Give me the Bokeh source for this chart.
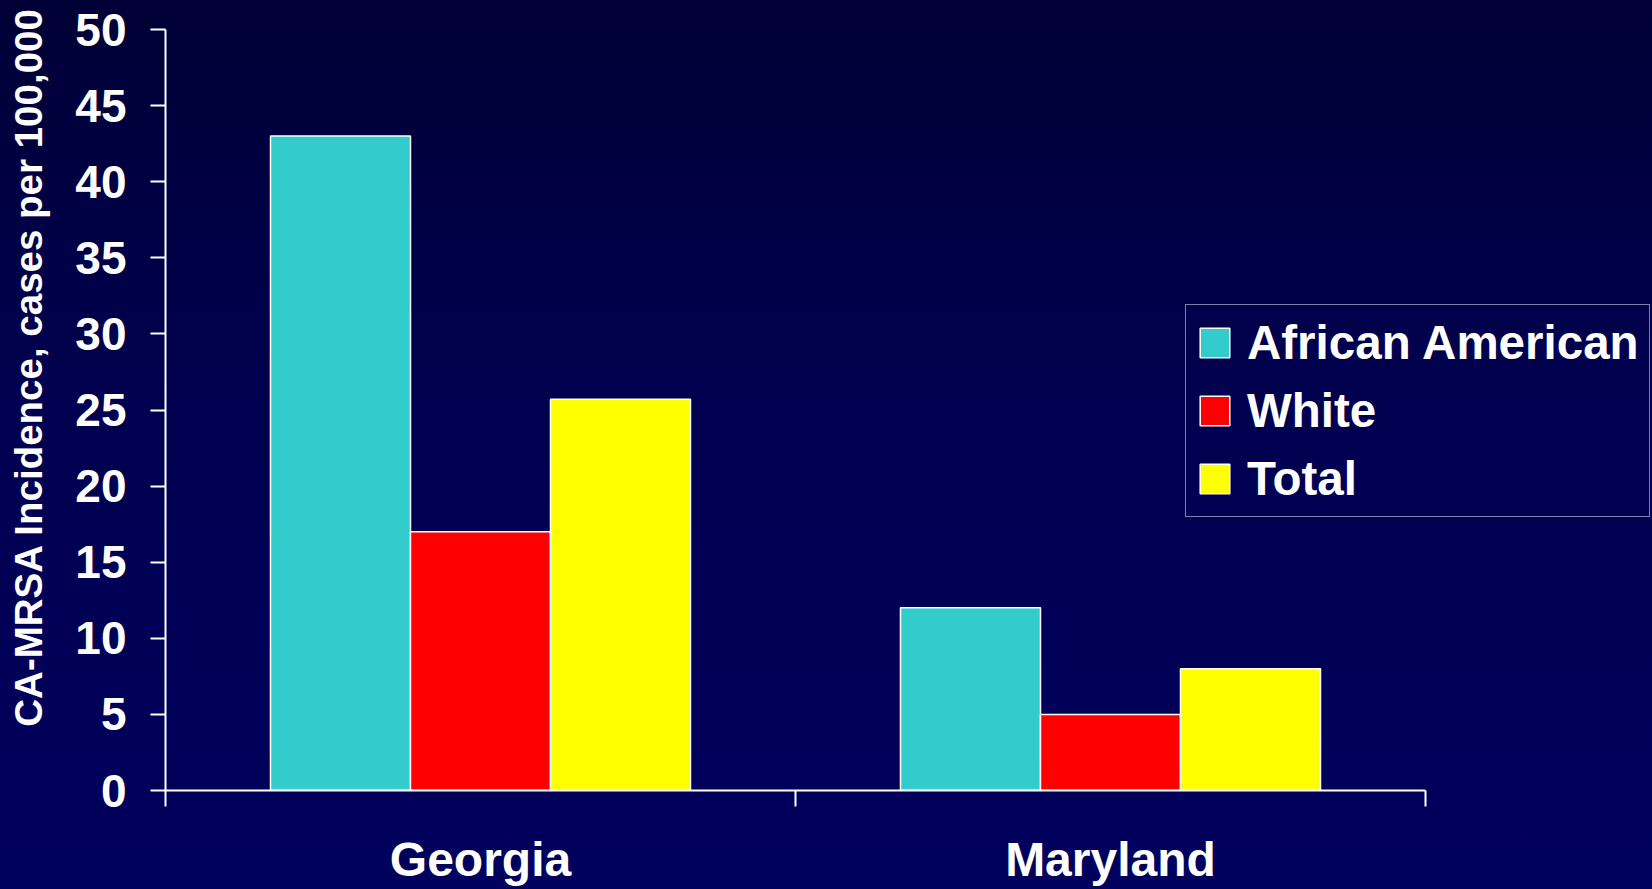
from bokeh.plotting import figure
from bokeh.models import (Range1d, LinearAxis, FixedTicker, Legend, LegendItem,
                          ColumnDataSource)
from bokeh.embed import file_html
from bokeh.resources import INLINE

# CA-MRSA incidence per 100,000 by state and race
states = ["Georgia", "Maryland"]
groups = ["African American", "White", "Total"]
african_american = [43.0, 12.0]
white = [17.0, 5.0]
total = [25.7, 8.0]
colors = ["#33CCCC", "#FF0000", "#FFFF00"]
y_ticks = [0, 5, 10, 15, 20, 25, 30, 35, 40, 45, 50]
y_title = "CA-MRSA Incidence, cases per 100,000"

FONT = "Liberation Sans"
W, H = 1652, 889
LEFT, TOP, BOTTOM = 165, 29, 99
UNIT_PX = 630            # pixels per state slot on the x scale
BAR_W = 140 / UNIT_PX    # width of a single bar in x units

frame_w = W - LEFT
p = figure(width=W, height=H, output_backend="svg", toolbar_location=None,
           x_range=Range1d(0, frame_w / UNIT_PX), y_range=Range1d(0, 50),
           x_axis_type=None, y_axis_type=None,
           min_border_left=LEFT, min_border_right=0,
           min_border_top=TOP, min_border_bottom=BOTTOM)
p.grid.visible = False
p.outline_line_color = None
p.background_fill_alpha = 0
p.border_fill_alpha = 0
p.styles = {"background": "linear-gradient(to bottom, #000036 0%, #000050 45%, #00005E 100%)"}

# grouped bars
series = [african_american, white, total]
renderers = []
for j, (vals, color) in enumerate(zip(series, colors)):
    xs = [i + 0.5 + (j - 1) * BAR_W for i in range(len(states))]
    src = ColumnDataSource(dict(x=xs, top=vals))
    r = p.vbar(x="x", top="top", bottom=0, width=BAR_W, source=src,
               fill_color=color, line_color="white", line_width=1.5)
    renderers.append(r)

# y axis
yax = LinearAxis(ticker=FixedTicker(ticks=y_ticks, minor_ticks=[]))
yax.axis_line_color = "white"
yax.axis_line_width = 2
yax.major_tick_line_color = "white"
yax.major_tick_line_width = 2
yax.major_tick_out = 15
yax.major_tick_in = 0
yax.major_label_standoff = 24
yax.major_label_text_color = "white"
yax.major_label_text_font = FONT
yax.major_label_text_font_style = "bold"
yax.major_label_text_font_size = "46px"
p.add_layout(yax, "left")

# bare axis carrying the y title; leading no-break spaces lift the
# centred title a little above the middle of the value axis
tax = LinearAxis(ticker=FixedTicker(ticks=[], minor_ticks=[]),
                 axis_label="\u00a0" * 8 + y_title)
tax.axis_line_color = None
tax.major_tick_line_color = None
tax.minor_tick_line_color = None
tax.axis_label_standoff = 23
tax.axis_label_text_color = "white"
tax.axis_label_text_font = FONT
tax.axis_label_text_font_style = "bold"
tax.axis_label_text_font_size = "38.5px"
p.add_layout(tax, "left")

# x axis: slot boundaries
bounds_ticks = list(range(len(states) + 1))
xax = LinearAxis(ticker=FixedTicker(ticks=bounds_ticks, minor_ticks=[]),
                 bounds=(0, len(states)),
                 major_label_overrides={b: "" for b in bounds_ticks})
xax.axis_line_color = "white"
xax.axis_line_width = 2
xax.major_tick_line_color = "white"
xax.major_tick_line_width = 2
xax.major_tick_out = 16
xax.major_tick_in = 0
xax.major_label_standoff = 0
p.add_layout(xax, "below")

# x axis: state names centred in each slot
centers = [i + 0.5 for i in range(len(states))]
cax = LinearAxis(ticker=FixedTicker(ticks=centers, minor_ticks=[]),
                 major_label_overrides={c: s for c, s in zip(centers, states)})
cax.axis_line_color = None
cax.major_tick_line_color = None
cax.major_tick_out = 0
cax.major_tick_in = 0
cax.major_label_standoff = 26
cax.major_label_text_color = "white"
cax.major_label_text_font = FONT
cax.major_label_text_font_style = "bold"
cax.major_label_text_font_size = "48px"
p.add_layout(cax, "below")

legend = Legend(items=[LegendItem(label=g, renderers=[r]) for g, r in zip(groups, renderers)],
                location=(1020, 273))
legend.label_text_font = FONT
legend.label_text_font_style = "bold"
legend.label_text_font_size = "47.5px"
legend.label_text_color = "white"
legend.glyph_width = 37
legend.glyph_height = 37
legend.label_standoff = 14
legend.label_height = 54
legend.padding = 10
legend.spacing = 13
legend.margin = 0
legend.border_line_color = "white"
legend.border_line_width = 1.5
legend.background_fill_alpha = 0
p.add_layout(legend)

open("out.html", "w").write(file_html(p, INLINE))
